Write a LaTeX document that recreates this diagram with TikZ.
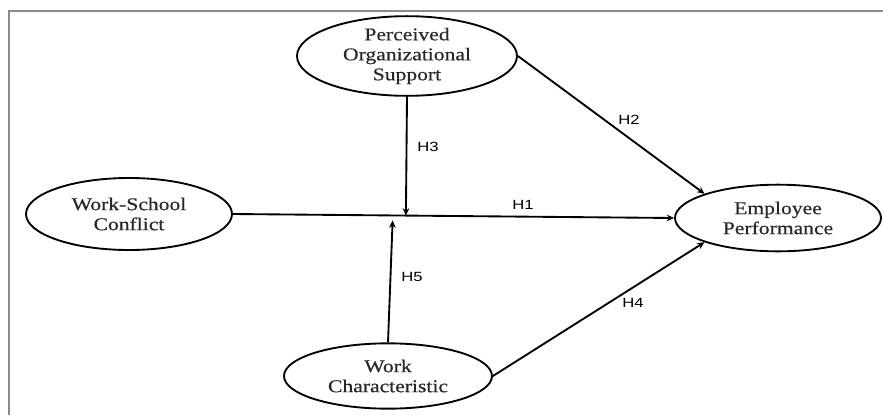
\documentclass[tikz,border=0pt]{standalone}
\usepackage{fontspec}
\setmainfont{Liberation Serif}[FakeStretch=1.2,FakeBold=0.4]
\newfontfamily\labfont{Liberation Sans}[FakeStretch=1.25]
\usetikzlibrary{shapes.geometric,arrows.meta,calc}
\definecolor{txt}{HTML}{262630}
\definecolor{framegray}{HTML}{8A8A8A}
\tikzset{
  construct/.style={ellipse, draw=black, line width=1.4pt, inner sep=0pt, align=center,
    text=txt, font=\fontsize{13.5pt}{15pt}\selectfont},
  path/.style={draw=black, line width=1.4pt, -{Stealth[length=5.5pt,width=5pt]}},
  hyp/.style={font=\labfont\fontsize{10pt}{11pt}\selectfont, text=black, inner sep=0pt},
}
\begin{document}
\begin{tikzpicture}[x=0.75pt,y=-0.75pt]
\useasboundingbox (0,0) rectangle (883,415);
\fill[white] (0,0) rectangle (883,415);
% frame
\draw[framegray, line width=1.5pt] (9,415) -- (9,11) -- (883,11);
% constructs
\node[construct, minimum width=165pt, minimum height=57pt] (pos) at (407,56) {Perceived\\Organizational\\Support};
\node[construct, minimum width=154.5pt, minimum height=54pt] (wsc) at (129,214) {Work-School\\Conflict};
\node[construct, minimum width=154.5pt, minimum height=50pt] (emp) at (778,218) {Employee\\Performance};
\node[construct, minimum width=156pt, minimum height=49pt] (wc) at (388,376) {Work\\Characteristic};
% helper coordinates on H1
\coordinate (m3) at ($(wsc.east)!(pos.south)!(emp.west)$);
\coordinate (m5base) at ($(wsc.east)!0.362!(emp.west)$);
\coordinate (m5) at ($(m5base)+(0,5)$);
% connectors
\draw[path] (wsc.east) -- (emp.west);
\draw[path] (pos.south) -- (m3);
\draw[path] (pos.east) -- (emp.north west);
\draw[path] (wc.north) -- (m5);
\draw[path] (wc.east) -- (emp.south west);
% labels
\node[hyp] (h1) at (523,205) {H1};
\node[hyp] (h2) at (629,120) {H2};
\node[hyp] (h3) at (428,147) {H3};
\node[hyp] (h4) at (633,303) {H4};
\node[hyp] (h5) at (412,277) {H5};
\end{tikzpicture}
\end{document}
